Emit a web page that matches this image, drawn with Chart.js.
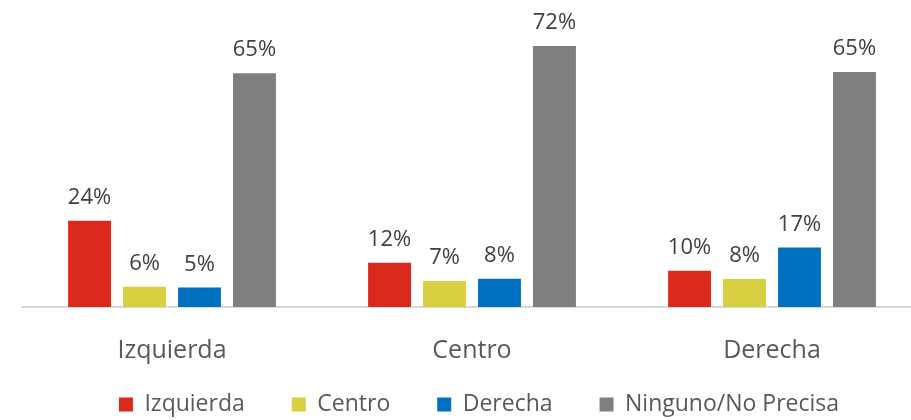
<!DOCTYPE html>
<html>
<head>
<meta charset="utf-8">
<script src="https://cdn.jsdelivr.net/npm/chart.js@4.4.1/dist/chart.umd.min.js"></script>
<style>
  html, body { margin: 0; padding: 0; background: #fff; overflow: hidden; }
  #wrap { width: 922px; height: 420px; }
</style>
</head>
<body>
<div id="wrap"><canvas id="chart"></canvas></div>
<script>
// categorias y series
const categorias = ["Izquierda", "Centro", "Derecha"];
const izquierda = [23.8, 12.2, 10.0];
const centro = [5.6, 7.2, 7.7];
const derecha = [5.4, 7.8, 16.4];
const ninguno = [64.5, 72.0, 64.8];
const etiquetas = [
    ["24%", "12%", "10%"],
    ["6%", "7%", "8%"],
    ["5%", "8%", "17%"],
    ["65%", "72%", "65%"]
];

const fuente = "'Open Sans', 'DejaVu Sans', sans-serif";

// etiquetas de valor encima de cada barra
const etiquetasBarras = {
    id: "etiquetasBarras",
    afterDatasetsDraw(chart) {
        const ctx = chart.ctx;
        ctx.save();
        ctx.font = "22px " + fuente;
        ctx.fillStyle = "#404040";
        ctx.textAlign = "center";
        ctx.textBaseline = "bottom";
        chart.data.datasets.forEach(function(ds, i) {
            chart.getDatasetMeta(i).data.forEach(function(bar, j) {
                ctx.fillText(etiquetas[i][j], bar.x, bar.y - 12);
            });
        });
        ctx.restore();
    }
};

// la leyenda usa padding para separar items; se recorta su alto y se recoloca
const ajusteLeyenda = {
    id: "ajusteLeyenda",
    beforeInit(chart) {
        const fitOriginal = chart.legend.fit;
        chart.legend.fit = function() {
            fitOriginal.call(this);
            this.height = 33;
        };
    },
    afterLayout(chart) {
        const l = chart.legend;
        l.top = 346;
        l.bottom = 420;
        l.left += 7;
        l.right += 7;
    }
};

new Chart(
    document.querySelector("canvas#chart"),
    {
        type: "bar",
        data: {
            labels: categorias,
            datasets: [
                { label: "Izquierda", data: izquierda, backgroundColor: "#dc291e" },
                { label: "Centro", data: centro, backgroundColor: "#d8d040" },
                { label: "Derecha", data: derecha, backgroundColor: "#0070c0" },
                { label: "Ninguno/No Precisa", data: ninguno, backgroundColor: "#7f7f7f" }
            ]
        },
        options: {
            responsive: true,
            maintainAspectRatio: false,
            animation: false,
            datasets: {
                bar: { categoryPercentage: 0.733, barPercentage: 0.78 }
            },
            layout: { padding: { left: 22, right: 0, top: 17, bottom: 0 } },
            scales: {
                x: {
                    grid: { display: false },
                    border: { color: "#d9d9d9", width: 2 },
                    ticks: { color: "#595959", font: { family: fuente, size: 25 }, padding: 21 }
                },
                y: {
                    display: false,
                    min: 0,
                    max: 80
                }
            },
            plugins: {
                legend: {
                    position: "bottom",
                    labels: {
                        color: "#595959",
                        font: { family: fuente, size: 23 },
                        boxWidth: 14,
                        boxHeight: 14,
                        padding: 47
                    }
                },
                tooltip: { enabled: false }
            }
        },
        plugins: [etiquetasBarras, ajusteLeyenda]
    }
);
</script>
</body>
</html>
